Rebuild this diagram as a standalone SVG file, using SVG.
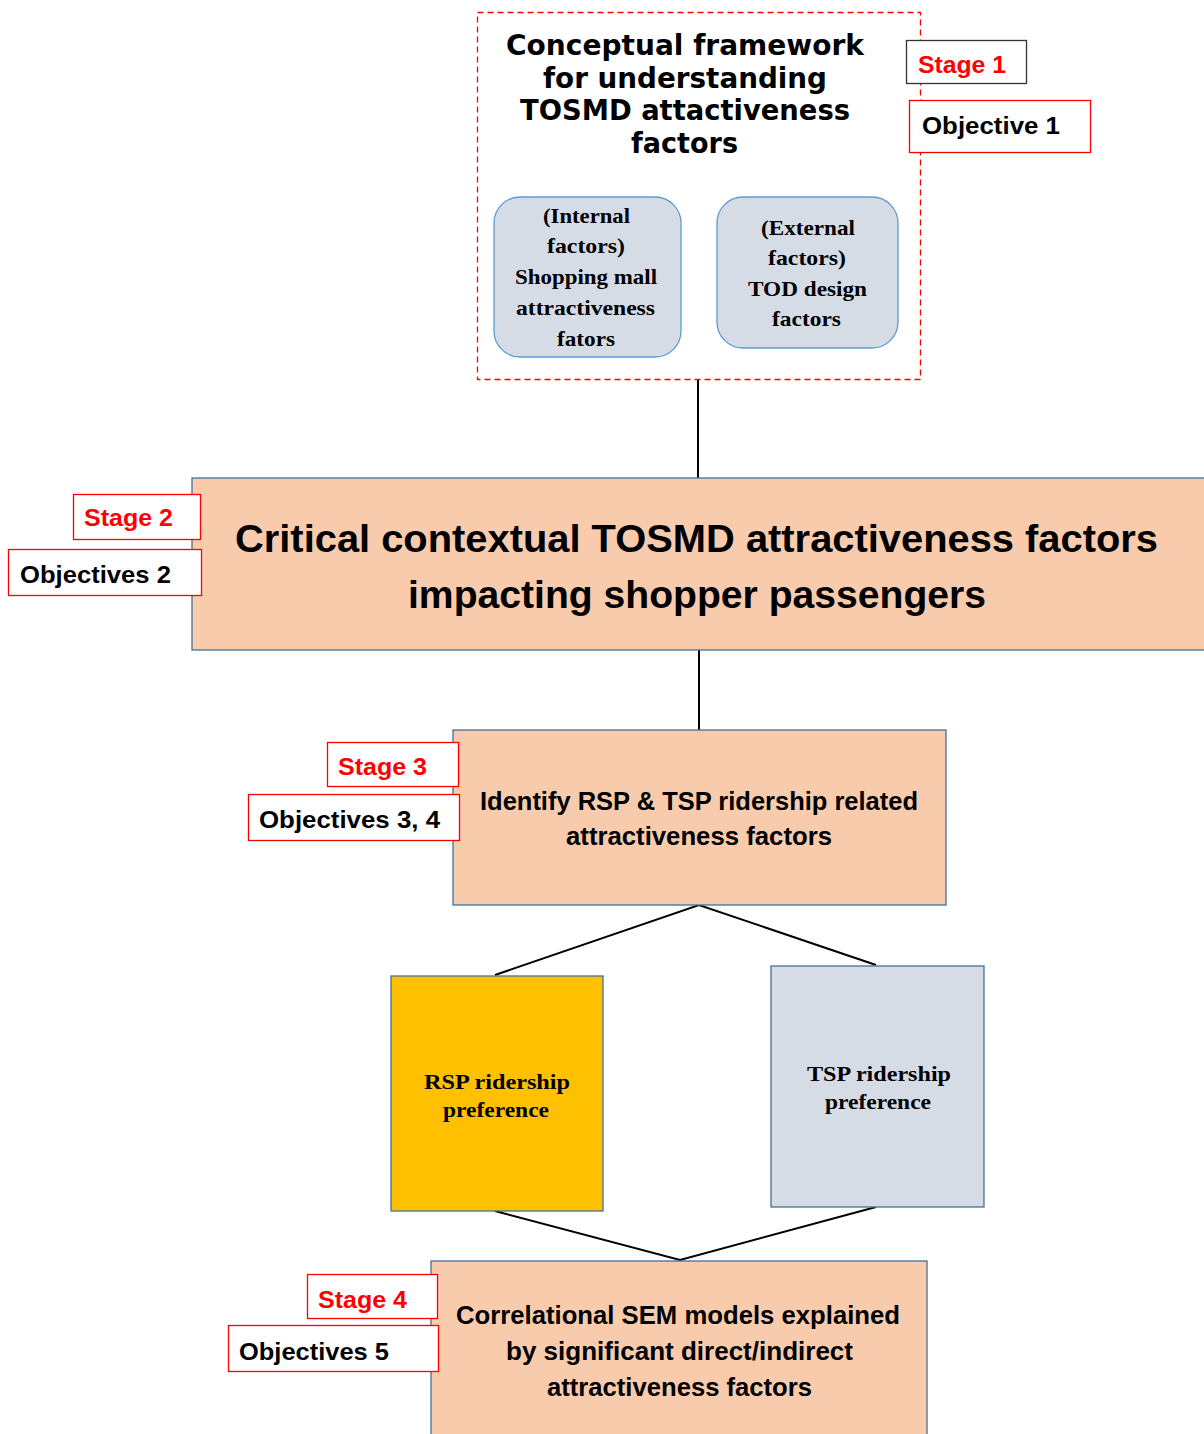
<svg xmlns="http://www.w3.org/2000/svg" width="1204" height="1434" viewBox="0 0 1204 1434">
  <defs>
    <style>
      .stage-box { fill: #f8cbad; stroke: #41719c; stroke-width: 1.3; }
      .tag-box { fill: #ffffff; stroke: #ff0000; stroke-width: 1.3; }
      .factor-box { fill: #d6dce5; stroke: #5b9bd5; stroke-width: 1.3; }
      .sans { font-family: "Liberation Sans", Arial, sans-serif; font-weight: bold; fill: #000000; }
      .serif { font-family: "Liberation Serif", "Times New Roman", serif; font-weight: bold; fill: #000000; }
      .title { font-family: "DejaVu Sans", "Liberation Sans", sans-serif; font-weight: bold; fill: #000000; font-size: 29px; }
      .red { fill: #ff0000; }
      .link { stroke: #000000; stroke-width: 2; fill: none; }
    </style>
  </defs>

  <!-- connectors -->
  <g id="connectors">
    <line class="link" x1="698" y1="379" x2="698" y2="478"/>
    <line class="link" x1="699" y1="650" x2="699" y2="730"/>
    <polyline class="link" points="495,975 699,905 876,965"/>
    <polyline class="link" points="495,1211 680,1260 876,1207"/>
  </g>

  <!-- stage 1: conceptual framework -->
  <g id="stage1">
    <rect x="477.5" y="12.5" width="443" height="367" fill="none" stroke="#ff0000" stroke-width="1.3" stroke-dasharray="6,4"/>
    <text class="title">
      <tspan x="506" y="55" textLength="358" lengthAdjust="spacingAndGlyphs">Conceptual framework</tspan>
      <tspan x="543" y="88" textLength="284" lengthAdjust="spacingAndGlyphs">for understanding</tspan>
      <tspan x="520" y="120" textLength="330" lengthAdjust="spacingAndGlyphs">TOSMD attactiveness</tspan>
      <tspan x="631" y="153" textLength="107" lengthAdjust="spacingAndGlyphs">factors</tspan>
    </text>
  </g>

  <g id="internal-factors">
    <rect class="factor-box" x="494" y="197" width="187" height="160" rx="26" ry="26"/>
    <text class="serif" font-size="22">
      <tspan x="543" y="223" textLength="87" lengthAdjust="spacingAndGlyphs">(Internal</tspan>
      <tspan x="547" y="253" textLength="78" lengthAdjust="spacingAndGlyphs">factors)</tspan>
      <tspan x="515" y="284" textLength="142" lengthAdjust="spacingAndGlyphs">Shopping mall</tspan>
      <tspan x="516" y="315" textLength="139" lengthAdjust="spacingAndGlyphs">attractiveness</tspan>
      <tspan x="557" y="346" textLength="58" lengthAdjust="spacingAndGlyphs">fators</tspan>
    </text>
  </g>

  <g id="external-factors">
    <rect class="factor-box" x="717" y="197" width="181" height="151" rx="26" ry="26"/>
    <text class="serif" font-size="22">
      <tspan x="761" y="235" textLength="94" lengthAdjust="spacingAndGlyphs">(External</tspan>
      <tspan x="768" y="265" textLength="78" lengthAdjust="spacingAndGlyphs">factors)</tspan>
      <tspan x="748" y="296" textLength="119" lengthAdjust="spacingAndGlyphs">TOD design</tspan>
      <tspan x="772" y="326" textLength="69" lengthAdjust="spacingAndGlyphs">factors</tspan>
    </text>
  </g>

  <g id="stage1-tag">
    <rect x="906.5" y="40.5" width="120" height="43" fill="#ffffff" stroke="#333333" stroke-width="1.3"/>
    <text class="sans red" font-size="24" x="918" y="73" textLength="88" lengthAdjust="spacingAndGlyphs">Stage 1</text>
  </g>
  <g id="objective1-tag">
    <rect class="tag-box" x="909.5" y="100.5" width="181" height="52"/>
    <text class="sans" font-size="24" x="922" y="134" textLength="138" lengthAdjust="spacingAndGlyphs">Objective 1</text>
  </g>

  <!-- stage 2 -->
  <g id="stage2">
    <rect class="stage-box" x="192" y="478" width="1020" height="172"/>
    <text class="sans" font-size="38">
      <tspan x="235" y="552" textLength="923" lengthAdjust="spacingAndGlyphs">Critical contextual TOSMD attractiveness factors</tspan>
      <tspan x="408" y="608" textLength="578" lengthAdjust="spacingAndGlyphs">impacting shopper passengers</tspan>
    </text>
  </g>
  <g id="stage2-tag">
    <rect class="tag-box" x="73.5" y="494.5" width="127" height="45"/>
    <text class="sans red" font-size="24" x="84" y="526" textLength="89" lengthAdjust="spacingAndGlyphs">Stage 2</text>
  </g>
  <g id="objectives2-tag">
    <rect class="tag-box" x="8.5" y="549.5" width="193" height="46"/>
    <text class="sans" font-size="24" x="20" y="583" textLength="151" lengthAdjust="spacingAndGlyphs">Objectives 2</text>
  </g>

  <!-- stage 3 -->
  <g id="stage3">
    <rect class="stage-box" x="453" y="730" width="493" height="175"/>
    <text class="sans" font-size="25">
      <tspan x="480" y="810" textLength="438" lengthAdjust="spacingAndGlyphs">Identify RSP &amp; TSP ridership related</tspan>
      <tspan x="566" y="845" textLength="266" lengthAdjust="spacingAndGlyphs">attractiveness factors</tspan>
    </text>
  </g>
  <g id="stage3-tag">
    <rect class="tag-box" x="327.5" y="742.5" width="131" height="44"/>
    <text class="sans red" font-size="24" x="338" y="775" textLength="89" lengthAdjust="spacingAndGlyphs">Stage 3</text>
  </g>
  <g id="objectives34-tag">
    <rect class="tag-box" x="248.5" y="794.5" width="211" height="46"/>
    <text class="sans" font-size="24" x="259" y="828" textLength="181" lengthAdjust="spacingAndGlyphs">Objectives 3, 4</text>
  </g>

  <!-- ridership preferences -->
  <g id="rsp">
    <rect x="391" y="976" width="212" height="235" fill="#ffc000" stroke="#41719c" stroke-width="1.3"/>
    <text class="serif" font-size="22">
      <tspan x="424" y="1089" textLength="146" lengthAdjust="spacingAndGlyphs">RSP  ridership</tspan>
      <tspan x="443" y="1117" textLength="106" lengthAdjust="spacingAndGlyphs">preference</tspan>
    </text>
  </g>
  <g id="tsp">
    <rect x="771" y="966" width="213" height="241" fill="#d6dce5" stroke="#41719c" stroke-width="1.3"/>
    <text class="serif" font-size="22">
      <tspan x="807" y="1081" textLength="144" lengthAdjust="spacingAndGlyphs">TSP  ridership</tspan>
      <tspan x="825" y="1109" textLength="106" lengthAdjust="spacingAndGlyphs">preference</tspan>
    </text>
  </g>

  <!-- stage 4 -->
  <g id="stage4">
    <rect class="stage-box" x="431" y="1261" width="496" height="185"/>
    <text class="sans" font-size="25">
      <tspan x="456" y="1324" textLength="444" lengthAdjust="spacingAndGlyphs">Correlational SEM models explained</tspan>
      <tspan x="506" y="1360" textLength="347" lengthAdjust="spacingAndGlyphs">by significant direct/indirect</tspan>
      <tspan x="547" y="1396" textLength="265" lengthAdjust="spacingAndGlyphs">attractiveness factors</tspan>
    </text>
  </g>
  <g id="stage4-tag">
    <rect class="tag-box" x="307.5" y="1274.5" width="130" height="44"/>
    <text class="sans red" font-size="24" x="318" y="1308" textLength="89" lengthAdjust="spacingAndGlyphs">Stage 4</text>
  </g>
  <g id="objectives5-tag">
    <rect class="tag-box" x="228.5" y="1325.5" width="210" height="46"/>
    <text class="sans" font-size="24" x="239" y="1360" textLength="150" lengthAdjust="spacingAndGlyphs">Objectives 5</text>
  </g>
</svg>
